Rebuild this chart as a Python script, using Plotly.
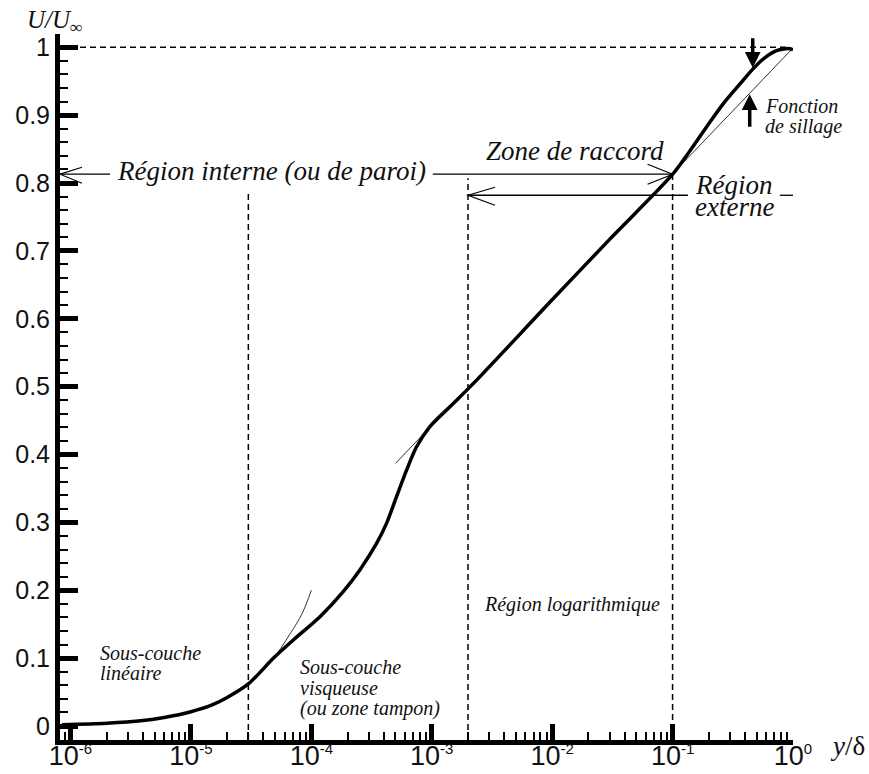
import math
import plotly.graph_objects as go

# Mean velocity profile U/U_inf versus y/delta for a turbulent boundary layer
# inner branch: wall -> end of buffer layer
inner_y = [8.5e-7, 2e-6, 4e-6, 6e-6, 1e-5, 1.5e-5, 2e-5, 3e-5, 4.83e-5, 7.08e-5,
           1.18e-4, 1.84e-4, 2.53e-4, 3.48e-4, 4.22e-4, 5.1e-4, 6.18e-4, 7.48e-4,
           9.66e-4, 1.245e-3]
inner_u = [0.002, 0.004, 0.008, 0.0125, 0.021, 0.031, 0.042, 0.062, 0.0997, 0.1267,
           0.161, 0.198, 0.230, 0.269, 0.299, 0.338, 0.377, 0.4115,
           0.441, 0.461]
# outer branch: log region + wake, up to the boundary-layer edge
outer_y = [1.245e-3, 1.61e-3, 2.37e-3, 1e-2, 3e-2, 0.0985, 0.14, 0.192, 0.264,
           0.363, 0.454, 0.568, 0.731, 0.944, 1.0]
outer_u = [0.461, 0.480, 0.510, 0.628, 0.717, 0.8115, 0.848, 0.883, 0.917,
           0.946, 0.966, 0.983, 0.995, 0.998, 0.996]

# thin reference laws: linear sublayer and logarithmic law
linear_y = [2e-5, 3e-5, 4.5e-5, 6.7e-5, 8.4e-5, 1e-4]
linear_u = [0.041, 0.062, 0.092, 0.1365, 0.166, 0.200]
loglaw_y = [5e-4, 1.0]
loglaw_u = [0.387, 0.999]

# zone boundaries (vertical dashed lines) and their upper ends
boundary_x = [3e-5, 2e-3, 1e-1]
boundary_top = [0.785, 0.807, 0.812]

# axis ticks
x_tickvals = [1e-6, 1e-5, 1e-4, 1e-3, 1e-2, 1e-1, 1e0]
x_exponents = ["-6", "-5", "-4", "-3", "-2", "-1", "0"]
y_tickvals = [0, 0.1, 0.2, 0.3, 0.4, 0.5, 0.6, 0.7, 0.8, 0.9, 1]
y_ticktext = ["0", "0.1", "0.2", "0.3", "0.4", "0.5", "0.6", "0.7", "0.8", "0.9", "1"]

X_RANGE = [-6.087, 0.0]
Y_RANGE = [-0.0206, 1.0196]
X_MIN = 10 ** X_RANGE[0]

SERIF = "Liberation Serif"
SANS = "Liberation Sans"
INK = "#111111"

fig = go.Figure()

fig.add_trace(go.Scatter(x=linear_y, y=linear_u, mode="lines",
                         line=dict(color="#333333", width=1, shape="spline"),
                         hoverinfo="skip"))
fig.add_trace(go.Scatter(x=loglaw_y, y=loglaw_u, mode="lines",
                         line=dict(color="#333333", width=1),
                         hoverinfo="skip"))
fig.add_trace(go.Scatter(x=inner_y, y=inner_u, mode="lines",
                         line=dict(color="black", width=3.5, shape="spline", smoothing=0.8)))
fig.add_trace(go.Scatter(x=outer_y, y=outer_u, mode="lines",
                         line=dict(color="black", width=3.5, shape="spline", smoothing=0.8)))

dash = dict(color="black", width=1.5, dash="6px,4px")
# free-stream level
fig.add_shape(type="line", xref="x", yref="y", x0=X_MIN, x1=10 ** -0.03, y0=1, y1=1, line=dash)
# zone boundaries
for bx, top in zip(boundary_x, boundary_top):
    fig.add_shape(type="line", xref="x", yref="y", x0=bx, x1=bx, y0=Y_RANGE[0], y1=top, line=dash)

solid = dict(color="black", width=1.3)
# "Région interne" double-sided arrow line
U_INNER = 0.813
fig.add_shape(type="line", xref="x", yref="y", x0=X_MIN, x1=2.13e-6, y0=U_INNER, y1=U_INNER, line=solid)
fig.add_shape(type="line", xref="x", yref="y", x0=1.02e-3, x1=0.1, y0=U_INNER, y1=U_INNER, line=solid)
# "Région externe" arrow line
U_OUTER = 0.782
fig.add_shape(type="line", xref="x", yref="y", x0=2e-3, x1=0.134, y0=U_OUTER, y1=U_OUTER, line=solid)
fig.add_shape(type="line", xref="x", yref="y", x0=0.777, x1=1.0, y0=U_OUTER, y1=U_OUTER, line=solid)


def open_head(x, y, path):
    fig.add_shape(type="path", xref="x", yref="y", xsizemode="pixel", ysizemode="pixel",
                  xanchor=x, yanchor=y, path=path,
                  line=dict(color="black", width=1.2), fillcolor="rgba(0,0,0,0)")


open_head(X_MIN, U_INNER, "M 22,7 L 0,0 L 22,-9")
open_head(0.1, U_INNER, "M -25,10 L 0,0 L -25,-10")
open_head(2e-3, U_OUTER, "M 27,8 L 0,0 L 27,-10")

# wake-function arrows
fig.add_annotation(x=math.log10(0.463), y=0.970, xref="x", yref="y", text="",
                   showarrow=True, ax=0, ay=-31, arrowhead=2, arrowsize=0.9,
                   arrowwidth=3.5, arrowcolor="black", standoff=0)
fig.add_annotation(x=math.log10(0.437), y=0.931, xref="x", yref="y", text="",
                   showarrow=True, ax=0, ay=34, arrowhead=2, arrowsize=0.9,
                   arrowwidth=3.5, arrowcolor="black", standoff=0)


def label(text, lx, u, size, xanchor="left"):
    fig.add_annotation(x=lx, y=u, xref="x", yref="y", text="<i>" + text + "</i>",
                       showarrow=False, xanchor=xanchor, yanchor="middle",
                       font=dict(family=SERIF, size=size, color=INK))


label("Région interne (ou de paroi)", -4.327, 0.818, 27, "center")
label("Zone de raccord", -1.812, 0.8475, 27, "center")
label("Région", -0.8327, 0.7964, 27)
label("externe", -0.8327, 0.764, 27)
label("Fonction", -0.2507, 0.9135, 20)
label("de sillage", -0.2507, 0.884, 20)
label("Sous-couche", -5.772, 0.1076, 20)
label("linéaire", -5.772, 0.078, 20)
label("Sous-couche", -4.111, 0.0869, 20)
label("visqueuse", -4.111, 0.056, 20)
label("(ou zone tampon)", -4.111, 0.0265, 20)
label("Région logarithmique", -2.584, 0.179, 20)

# axis titles (placed in paper coordinates, outside the plotting area)
fig.add_annotation(x=-0.0477, y=1.0184, xref="paper", yref="paper",
                   text="<i>U/U<sub>∞</sub></i>",
                   showarrow=False, xanchor="left", yanchor="middle",
                   font=dict(family=SERIF, size=25, color=INK))
fig.add_annotation(x=1.0477, y=-0.0085, xref="paper", yref="paper", text="<i>y</i>/δ",
                   showarrow=False, xanchor="left", yanchor="middle",
                   font=dict(family=SERIF, size=27, color=INK))

x_ticktext = ["10<sup><span style='font-size:15px'>" + e + "</span></sup>" for e in x_exponents]

fig.update_layout(
    width=869, height=774,
    margin=dict(l=60, r=76, t=34, b=34, autoexpand=False),
    paper_bgcolor="white", plot_bgcolor="white",
    showlegend=False,
    xaxis=dict(type="log", range=X_RANGE, showgrid=False, zeroline=False, automargin=False,
               showline=True, linecolor="black", linewidth=5,
               ticks="inside", ticklen=16, tickwidth=5, tickcolor="black",
               tickvals=x_tickvals, ticktext=x_ticktext, ticklabelstandoff=-12,
               tickfont=dict(family=SANS, size=27, color=INK),
               minor=dict(ticks="inside", ticklen=8, tickwidth=1.5, tickcolor="black",
                          dtick="D1", showgrid=False)),
    yaxis=dict(range=Y_RANGE, showgrid=False, zeroline=False, automargin=False,
               showline=True, linecolor="black", linewidth=5,
               ticks="inside", ticklen=18, tickwidth=5, tickcolor="black",
               tickvals=y_tickvals, ticktext=y_ticktext,
               tickfont=dict(family=SANS, size=25, color=INK),
               minor=dict(ticks="inside", ticklen=8, tickwidth=2, tickcolor="black",
                          dtick=0.02, showgrid=False)),
)

fig.write_html("out.html")
